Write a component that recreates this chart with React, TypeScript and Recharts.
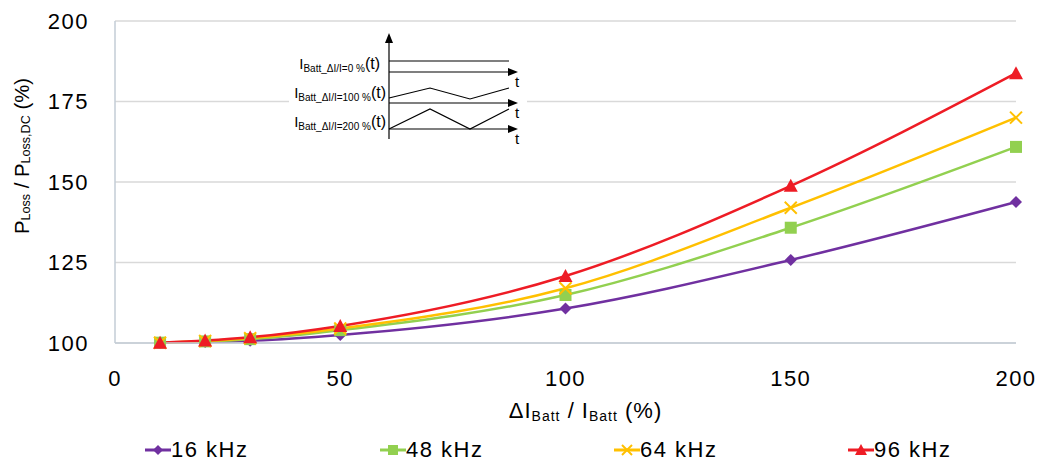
import React from 'react'
import { CartesianGrid, Label, Legend, Line, LineChart, XAxis, YAxis } from 'recharts'

// ripple ratio ΔI/I (%)
const rippleRatio = [10, 20, 30, 50, 100, 150, 200]
// relative losses P_Loss / P_Loss,DC (%) per switching frequency
const loss16k = [100.1, 100.3, 100.7, 102.5, 110.7, 125.8, 143.8]
const loss48k = [100.1, 100.5, 101.2, 104.0, 114.9, 135.8, 160.9]
const loss64k = [100.1, 100.6, 101.5, 104.5, 117.0, 142.0, 170.0]
const loss96k = [100.1, 100.8, 101.8, 105.3, 120.8, 148.8, 183.8]

const xTicks = [0, 50, 100, 150, 200]
const yTicks = [100, 125, 150, 175, 200]
const seriesNames = ['16 kHz', '48 kHz', '64 kHz', '96 kHz']

const data = rippleRatio.map((r, i) => ({
	r,
	f16: loss16k[i],
	f48: loss48k[i],
	f64: loss64k[i],
	f96: loss96k[i],
}))

const FONT = '"Liberation Sans", Arial, sans-serif'
const PURPLE = '#7030a0'
const GREEN = '#92d050'
const YELLOW = '#ffc000'
const RED = '#ee1c25'

type Shape = 'diamond' | 'square' | 'cross' | 'triangle'

const Marker = ({ cx, cy, shape, color, s }: { cx: number; cy: number; shape: Shape; color: string; s: number }) => {
	if (shape === 'diamond') {
		return <path d={`M${cx},${cy - s} L${cx + s},${cy} L${cx},${cy + s} L${cx - s},${cy} Z`} fill={color} />
	}
	if (shape === 'square') {
		return <rect x={cx - s} y={cy - s} width={2 * s} height={2 * s} fill={color} />
	}
	if (shape === 'cross') {
		return (
			<g stroke={color} strokeWidth={2}>
				<line x1={cx - s} y1={cy - s} x2={cx + s} y2={cy + s} />
				<line x1={cx - s} y1={cy + s} x2={cx + s} y2={cy - s} />
			</g>
		)
	}
	return <path d={`M${cx},${cy - s - 1} L${cx + s + 1},${cy + s} L${cx - s - 1},${cy + s} Z`} fill={color} />
}

const makeDot = (shape: Shape, color: string) => (p: any) => (
	<Marker key={`${shape}-${p.index}`} cx={p.cx} cy={p.cy} shape={shape} color={color} s={6} />
)

const legendItems: { shape: Shape; color: string; left: number }[] = [
	{ shape: 'diamond', color: PURPLE, left: 145 },
	{ shape: 'square', color: GREEN, left: 380 },
	{ shape: 'cross', color: YELLOW, left: 614 },
	{ shape: 'triangle', color: RED, left: 848 },
]

const ChartLegend = () => (
	<div style={{ position: 'relative', height: 36, fontFamily: FONT, fontSize: 22, letterSpacing: 1.5, color: '#000' }}>
		{legendItems.map((it, i) => (
			<div key={i} style={{ position: 'absolute', left: it.left, top: 0, display: 'flex', alignItems: 'center', height: 36 }}>
				<svg width={26} height={20}>
					<line x1={0} y1={10} x2={26} y2={10} stroke={it.color} strokeWidth={3} />
					<Marker cx={13} cy={10} shape={it.shape} color={it.color} s={5} />
				</svg>
				<span>{seriesNames[i]}</span>
			</div>
		))}
	</div>
)

const YTitle = () => (
	<text x={21} y={156} transform="rotate(-90, 21, 156)" textAnchor="middle" dominantBaseline="central"
		fontFamily={FONT} fontSize={21} fill="#000" textLength={156} lengthAdjust="spacingAndGlyphs">
		P<tspan fontSize={13} dy={4}>Loss</tspan><tspan dy={-4}> / P</tspan>
		<tspan fontSize={13} dy={4}>Loss,DC</tspan><tspan dy={-4}> (%)</tspan>
	</text>
)

const XTitle = (props: any) => {
	const vb = props.viewBox || { x: 115, width: 901 }
	const cx = vb.x + vb.width / 2 + 20
	return (
		<text x={cx} y={418} textAnchor="middle" fontFamily={FONT} fontSize={22} letterSpacing={1} fill="#000">
			ΔI<tspan fontSize={14} dy={3}>Batt</tspan><tspan dy={-3}> / I</tspan>
			<tspan fontSize={14} dy={3}>Batt</tspan><tspan dy={-3}> (%)</tspan>
		</text>
	)
}

const waveRows = [
	{ label: '0 %', axisY: 72, wave: '389,61 509,61', labelX: 380, labelY: 69 },
	{ label: '100 %', axisY: 103, wave: '389,98 430,88 470,99 509,88', labelX: 386, labelY: 98 },
	{ label: '200 %', axisY: 129, wave: '389,129 430,109 470,129 509,109', labelX: 386, labelY: 127 },
]

const Inset = () => (
	<svg width={1046} height={465} style={{ position: 'absolute', left: 0, top: 0, pointerEvents: 'none' }}>
		<rect x={289} y={30} width={238} height={120} fill="#fff" />
		<g stroke="#000" strokeWidth={1.2} fill="none">
			<line x1={389} y1={139} x2={389} y2={40} />
			{waveRows.map((r, i) => (
				<g key={i}>
					<polyline points={r.wave} />
					<line x1={389} y1={r.axisY} x2={510} y2={r.axisY} />
				</g>
			))}
		</g>
		<polygon points="389,33 385,43 393,43" fill="#000" />
		{waveRows.map((r, i) => (
			<g key={i} fontFamily={FONT} fill="#000">
				<polygon points={`518,${r.axisY} 508,${r.axisY - 4} 508,${r.axisY + 4}`} />
				<text x={515} y={r.axisY + 15} fontSize={15}>t</text>
				<text x={r.labelX} y={r.labelY} textAnchor="end" fontSize={15}>
					I<tspan fontSize={10} dy={3}>{`Batt_ΔI/I=${r.label}`}</tspan><tspan fontSize={16} dy={-3}>(t)</tspan>
				</text>
			</g>
		))}
	</svg>
)

const App = () => (
	<div style={{ position: 'absolute', left: 0, top: 0, width: 1046, height: 465, background: '#fff' }}>
		<LineChart width={1046} height={465} data={data} margin={{ top: 21, right: 30, left: 0, bottom: 62 }}>
			<CartesianGrid vertical={false} stroke="#d9d9d9" strokeWidth={1.5} />
			<XAxis dataKey="r" type="number" domain={[0, 200]} ticks={xTicks} height={60}
				axisLine={{ stroke: '#c3ccd6', strokeWidth: 1.5 }} tickLine={false} tickSize={25}
				tick={{ fontFamily: FONT, fontSize: 22, letterSpacing: 1.5, fill: '#000' }}>
				<Label content={<XTitle />} />
			</XAxis>
			<YAxis type="number" domain={[100, 200]} ticks={yTicks} width={115}
				axisLine={{ stroke: '#c3ccd6', strokeWidth: 1.5 }} tickLine={false} tickSize={24}
				tick={{ fontFamily: FONT, fontSize: 22, letterSpacing: 1.5, fill: '#000' }}>
				<Label content={<YTitle />} />
			</YAxis>
			<Line type="monotone" dataKey="f16" name={seriesNames[0]} stroke={PURPLE} strokeWidth={2.5} dot={makeDot('diamond', PURPLE)} isAnimationActive={false} />
			<Line type="monotone" dataKey="f48" name={seriesNames[1]} stroke={GREEN} strokeWidth={2.5} dot={makeDot('square', GREEN)} isAnimationActive={false} />
			<Line type="monotone" dataKey="f64" name={seriesNames[2]} stroke={YELLOW} strokeWidth={2.5} dot={makeDot('cross', YELLOW)} isAnimationActive={false} />
			<Line type="monotone" dataKey="f96" name={seriesNames[3]} stroke={RED} strokeWidth={2.5} dot={makeDot('triangle', RED)} isAnimationActive={false} />
			<Legend verticalAlign="middle" align="center" layout="horizontal" content={<ChartLegend />}
				wrapperStyle={{ top: 432, left: 0, width: 1046, height: 36 }} />
		</LineChart>
		<Inset />
	</div>
)

export default App
